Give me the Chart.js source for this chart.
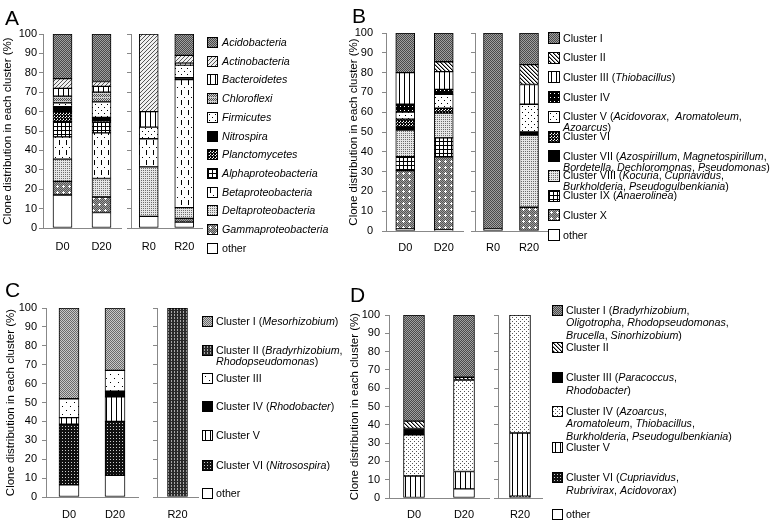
<!DOCTYPE html>
<html>
<head>
<meta charset="utf-8">
<script src="https://cdn.jsdelivr.net/npm/chart.js@4.4.1/dist/chart.umd.min.js"></script>
<style>
  body { margin: 0; background: #fff; font-family: "Liberation Sans", Arial, sans-serif; }
  #fig { position: relative; width: 777px; height: 528px; overflow: hidden; background: #fff; }
  #fig canvas { position: absolute; }
  .letter { position: absolute; font-size: 21px; line-height: 21px; color: #000; }
  .lg { position: absolute; font-size: 10.7px; white-space: nowrap; color: #000; }
  .sw { position: absolute; border: 1px solid #000; box-sizing: border-box; }
</style>
</head>
<body>
<div id="fig"></div>
<script>
// ---- data (values in % of clones) ----
const catsA = ["D0", "D20"], catsA2 = ["R0", "R20"];
const catsB = ["D0", "D20"], catsB2 = ["R0", "R20"];
const catsC = ["D0", "D20"], catsC2 = ["R20"];
const catsD = ["D0", "D20"], catsD2 = ["R20"];

// panel A, columns D0, D20, R0, R20
const aAcido = [23, 24.5, 0, 11];
const aActino = [5, 2.5, 40, 4];
const aBactero = [4, 3, 8, 1];
const aChloro = [3.5, 5, 0, 0];
const aFirmi = [2, 8, 6, 6.5];
const aNitro = [2.5, 1.5, 0, 1];
const aPlancto = [5, 1, 0, 0];
const aAlpha = [8, 5.5, 0, 0];
const aBeta = [11.5, 23.5, 14.5, 66];
const aDelta = [11.5, 9.5, 25.5, 5.5];
const aGamma = [7, 8, 0, 2];
const aOther = [17, 8, 6, 3];

// panel B, columns D0, D20, R0, R20
const bI = [20, 14.5, 99, 16];
const bII = [0, 5, 0, 10];
const bIII = [16, 9, 0, 10];
const bIV = [4, 2.5, 0, 0];
const bV = [3.5, 7, 0, 14];
const bVI = [4, 2.5, 0, 0];
const bVII = [1.5, 0, 0, 1.5];
const bVIII = [13.5, 12.5, 0, 36.5];
const bIX = [7, 9.5, 0, 0];
const bX = [29.5, 37, 0, 12];
const bOther = [1, 0.5, 1, 0];

// panel C, columns D0, D20, R20
const cI = [48, 33, 0];
const cII = [0, 0, 100];
const cIII = [10, 11, 0];
const cIV = [0, 3, 0];
const cV = [3.5, 13, 0];
const cVI = [32, 28.5, 0];
const cOther = [6.5, 11.5, 0];

// panel D, columns D0, D20, R20
const dI = [58, 34, 0];
const dII = [4, 1.5, 0];
const dIII = [3.5, 0, 0];
const dIV = [22.5, 50, 64.5];
const dV = [12, 9.5, 34.5];
const dVI = [0, 0, 1];
const dOther = [0, 5, 0];

const legA = ["<i>Acidobacteria</i>", "<i>Actinobacteria</i>", "<i>Bacteroidetes</i>", "<i>Chloroflexi</i>",
  "<i>Firmicutes</i>", "<i>Nitrospira</i>", "<i>Planctomycetes</i>", "<i>Alphaproteobacteria</i>",
  "<i>Betaproteobacteria</i>", "<i>Deltaproteobacteria</i>", "<i>Gammaproteobacteria</i>", "other"];
const legB = ["Cluster I", "Cluster II", "Cluster III (<i>Thiobacillus</i>)", "Cluster IV",
  "Cluster V (<i>Acidovorax</i>, &nbsp;<i>Aromatoleum</i>,<br><i>Azoarcus</i>)", "Cluster VI",
  "Cluster VII (<i>Azospirillum</i>, <i>Magnetospirillum</i>,<br><i>Bordetella</i>, <i>Dechloromonas</i>, <i>Pseudomonas</i>)",
  "Cluster VIII (<i>Kocuria</i>, <i>Cupriavidus</i>,<br><i>Burkholderia</i>, <i>Pseudogulbenkiania</i>)",
  "Cluster IX (<i>Anaerolinea</i>)", "Cluster X", "other"];
const legC = ["Cluster I (<i>Mesorhizobium</i>)", "Cluster II (<i>Bradyrhizobium</i>,<br><i>Rhodopseudomonas</i>)",
  "Cluster III", "Cluster IV (<i>Rhodobacter</i>)", "Cluster V", "Cluster VI (<i>Nitrosospira</i>)", "other"];
const legD = ["Cluster I (<i>Bradyrhizobium</i>,<br><i>Oligotropha</i>, <i>Rhodopseudomonas</i>,<br><i>Brucella</i>, <i>Sinorhizobium</i>)",
  "Cluster II", "Cluster III (<i>Paracoccus</i>,<br><i>Rhodobacter</i>)",
  "Cluster IV (<i>Azoarcus</i>,<br><i>Aromatoleum</i>, <i>Thiobacillus</i>,<br><i>Burkholderia</i>, <i>Pseudogulbenkiania</i>)",
  "Cluster V", "Cluster VI (<i>Cupriavidus</i>,<br><i>Rubrivirax</i>, <i>Acidovorax</i>)", "other"];

const yTitle = "Clone distribution in each cluster (%)";

// ---- fill patterns ----
function tile(w, h, draw) {
  const c = document.createElement("canvas");
  c.width = w; c.height = h;
  draw(c.getContext("2d"));
  return c;
}
function px(ctx, col, pts) {
  ctx.fillStyle = col;
  pts.forEach(p => ctx.fillRect(p[0], p[1], p[2] || 1, p[3] || 1));
}
function check(ctx, w, h, a, b) {
  for (let y = 0; y < h; y++) for (let x = 0; x < w; x++) {
    ctx.fillStyle = (x + y) % 2 ? a : b;
    ctx.fillRect(x, y, 1, 1);
  }
}
const tiles = {
  white: tile(1, 1, c => px(c, "#fff", [[0, 0]])),
  black: tile(1, 1, c => px(c, "#000", [[0, 0]])),
  gray: tile(2, 2, c => check(c, 2, 2, "#a0a0a0", "#4a4a4a")),
  grayLight: tile(2, 2, c => check(c, 2, 2, "#c8c8c8", "#6a6a6a")),
  diagR: tile(4, 4, c => { px(c, "#f0f0f0", [[0, 0, 4, 4]]); px(c, "#555", [[3, 0], [2, 1], [1, 2], [0, 3]]); }),
  diagL: tile(4, 4, c => { px(c, "#fff", [[0, 0, 4, 4]]); px(c, "#000", [[0, 0], [1, 1], [2, 2], [3, 3]]); px(c, "#999", [[1, 0], [2, 1], [3, 2], [0, 3]]); }),
  vlines: tile(5, 1, c => { px(c, "#fff", [[0, 0, 5, 1]]); px(c, "#000", [[2, 0]]); }),
  weave: tile(4, 4, c => { px(c, "#d0d0d0", [[0, 0, 4, 4]]); px(c, "#505050", [[1, 0], [0, 1], [2, 1], [1, 2], [3, 2], [3, 0]]); }),
  dots: tile(6, 6, c => { px(c, "#fff", [[0, 0, 6, 6]]); px(c, "#000", [[1, 1], [4, 4]]); }),
  dotsSparse: tile(8, 8, c => { px(c, "#fff", [[0, 0, 8, 8]]); px(c, "#000", [[2, 2], [6, 6]]); }),
  checker: tile(3, 3, c => { px(c, "#fff", [[0, 0, 3, 3]]); px(c, "#000", [[0, 0, 2, 2], [2, 2]]); px(c, "#444", [[2, 0], [0, 2]]); }),
  grid: tile(4, 4, c => { px(c, "#fff", [[0, 0, 4, 4]]); px(c, "#000", [[0, 0, 4, 1], [0, 0, 1, 4]]); }),
  dashes: tile(7, 10, c => { px(c, "#fff", [[0, 0, 7, 10]]); px(c, "#000", [[2, 0, 1, 5], [5, 7]]); }),
  fine: tile(2, 2, c => { px(c, "#e6e6e6", [[0, 0, 2, 2]]); px(c, "#6c6c6c", [[0, 0]]); }),
  grayPlus: tile(6, 6, c => { check(c, 6, 6, "#a0a0a0", "#555"); px(c, "#fff", [[2, 1], [1, 2, 3, 1], [2, 3]]); }),
  blackDots: tile(4, 4, c => { px(c, "#000", [[0, 0, 4, 4]]); px(c, "#fff", [[1, 1]]); }),
  blackDotsFine: tile(3, 3, c => { px(c, "#111", [[0, 0, 3, 3]]); px(c, "#ccc", [[1, 1]]); }),
  darkCols: tile(3, 3, c => { px(c, "#2a2a2a", [[0, 0, 3, 3]]); px(c, "#a8a8a8", [[1, 0], [1, 1]]); }),
  dotsGray: tile(4, 4, c => { px(c, "#fff", [[0, 0, 4, 4]]); px(c, "#555", [[0, 0], [2, 2]]); })
};
const patCtx = document.createElement("canvas").getContext("2d");
const pat = k => patCtx.createPattern(tiles[k], "repeat");

const fillA = ["gray", "diagR", "vlines", "weave", "dots", "black", "checker", "grid", "dashes", "fine", "grayPlus", "white"];
const fillB = ["gray", "diagL", "vlines", "blackDots", "dots", "checker", "black", "fine", "grid", "grayPlus", "white"];
const fillC = ["grayLight", "darkCols", "dotsSparse", "black", "vlines", "blackDotsFine", "white"];
const fillD = ["gray", "diagL", "black", "dotsGray", "vlines", "blackDotsFine", "white"];

const fig = document.getElementById("fig");
const FONT = "'Liberation Sans', Arial, sans-serif";

function subChart(box, t, b, cats, datasets, o, withLabels) {
  // top padding must exceed half a tick label + tick padding, so the plot top stays fixed
  const padT = 24, padR = 6, xh = 30;
  const yw = withLabels ? o.yw : 8;
  const w = box.r - box.l + yw + padR, h = b - t + padT + xh;
  const c = document.createElement("canvas");
  c.width = w; c.height = h;
  c.style.left = (box.l - yw) + "px";
  c.style.top = (t - padT) + "px";
  c.style.width = w + "px"; c.style.height = h + "px";
  fig.appendChild(c);
  new Chart(c, {
    type: "bar",
    data: { labels: cats, datasets },
    options: {
      responsive: false,
      animation: false,
      layout: { padding: { top: padT, right: padR, left: 0, bottom: 0 } },
      plugins: { legend: { display: false }, tooltip: { enabled: false } },
      datasets: { bar: { barThickness: o.barW, borderWidth: 1, borderColor: "#000", borderSkipped: false } },
      scales: {
        x: {
          stacked: true,
          grid: { display: false, drawTicks: false },
          border: { color: "#888" },
          ticks: { color: "#000", padding: o.xPad, font: { family: FONT, size: 11 } },
          afterFit: s => { s.height = xh; }
        },
        y: {
          stacked: true, min: 0, max: 100,
          grid: { drawOnChartArea: false, tickLength: 4, color: "#888" },
          border: { color: "#888" },
          ticks: { stepSize: 10, display: withLabels, padding: o.tickPad, color: "#000", font: { family: FONT, size: 11 } },
          title: { display: withLabels, text: yTitle, color: "#000", padding: 0, font: { family: FONT, size: 11.5 } },
          afterFit: s => { s.width = yw; }
        }
      }
    }
  });
}

function panel(o) {
  const n1 = o.cats[0].length;
  const order = o.vals.map((v, i) => i).reverse(); // stack bottom-up: other first
  const make = (from, to) => order.map(i => ({
    label: o.legend[i].replace(/<[^>]+>/g, ""),
    data: o.vals[i].slice(from, to).map(v => v || null),
    backgroundColor: pat(o.fills[i])
  }));
  subChart(o.left, o.t, o.b, o.cats[0], make(0, n1), o, true);
  subChart(o.right, o.t, o.b, o.cats[1], make(n1), o, false);

  const L = document.createElement("div");
  L.className = "letter"; L.textContent = o.letter;
  L.style.left = o.lx + "px"; L.style.top = o.ly + "px";
  fig.appendChild(L);

  o.legend.forEach((txt, i) => {
    const cy = o.ly0[i];
    const s = document.createElement("div");
    s.className = "sw";
    s.style.left = o.sx + "px"; s.style.top = (cy - o.ss / 2) + "px";
    s.style.width = o.ss + "px"; s.style.height = o.ss + "px";
    s.style.backgroundImage = "url(" + tiles[o.fills[i]].toDataURL() + ")";
    fig.appendChild(s);
    const d = document.createElement("div");
    d.className = "lg";
    d.style.left = o.tx + "px"; d.style.top = (cy - o.lh / 2) + "px";
    d.style.lineHeight = o.lh + "px";
    d.innerHTML = txt;
    fig.appendChild(d);
  });
}

panel({
  letter: "A", lx: 5, ly: 7,
  vals: [aAcido, aActino, aBactero, aChloro, aFirmi, aNitro, aPlancto, aAlpha, aBeta, aDelta, aGamma, aOther],
  legend: legA, fills: fillA, cats: [catsA, catsA2],
  left: { l: 43, r: 121 }, right: { l: 131, r: 202 }, t: 34, b: 228,
  yw: 42, tickPad: 2, xPad: 12, barW: 19,
  sx: 207, ss: 11, tx: 222, lh: 11,
  ly0: [42.5, 61.2, 79.9, 98.6, 117.3, 136, 154.7, 173.4, 192.1, 210.8, 229.5, 248.2]
});
panel({
  letter: "B", lx: 352, ly: 5,
  vals: [bI, bII, bIII, bIV, bV, bVI, bVII, bVIII, bIX, bX, bOther],
  legend: legB, fills: fillB, cats: [catsB, catsB2],
  left: { l: 386, r: 463 }, right: { l: 475, r: 547 }, t: 33, b: 231,
  yw: 39, tickPad: 9, xPad: 10, barW: 19,
  sx: 548, ss: 12, tx: 563, lh: 11,
  ly0: [38, 57.7, 77.4, 97.1, 116.8, 136.5, 156.2, 175.9, 195.6, 215.3, 235]
});
panel({
  letter: "C", lx: 5, ly: 279,
  vals: [cI, cII, cIII, cIV, cV, cVI, cOther],
  legend: legC, fills: fillC, cats: [catsC, catsC2],
  left: { l: 46, r: 138 }, right: { l: 157, r: 198 }, t: 308, b: 497,
  yw: 42, tickPad: 5, xPad: 11, barW: 20,
  sx: 202, ss: 11, tx: 216, lh: 11,
  ly0: [321.7, 350, 378, 406.7, 435.5, 465, 493]
});
panel({
  letter: "D", lx: 350, ly: 284,
  vals: [dI, dII, dIII, dIV, dV, dVI, dOther],
  legend: legD, fills: fillD, cats: [catsD, catsD2],
  left: { l: 389, r: 489 }, right: { l: 498, r: 542 }, t: 315, b: 498,
  yw: 41, tickPad: 5, xPad: 10.5, barW: 21,
  sx: 552, ss: 11, tx: 566, lh: 12.5,
  ly0: [310, 347.5, 377.5, 411, 447.5, 477.5, 514]
});
</script>
</body>
</html>
